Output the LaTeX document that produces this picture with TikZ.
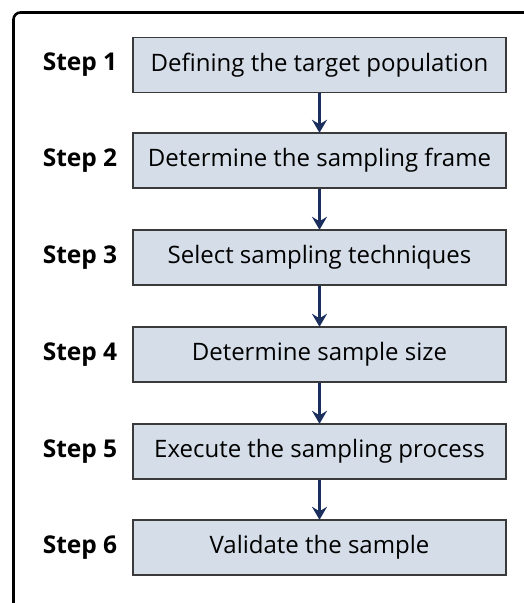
\documentclass[tikz,border=0pt]{standalone}
\usepackage{fontspec}
\setmainfont{Open Sans}
\usetikzlibrary{arrows.meta}
\definecolor{boxfill}{HTML}{D5DEE8}
\definecolor{boxline}{HTML}{3A3A3A}
\definecolor{arrowcol}{HTML}{1B2F5E}
\tikzset{
  stepbox/.style={draw=boxline, line width=1.4pt, fill=boxfill, minimum width=373pt, minimum height=55pt, inner sep=0pt, font=\fontsize{24}{28}\selectfont},
  steplabel/.style={font=\fontsize{24.5}{28}\selectfont\bfseries, inner sep=0pt},
  flow/.style={draw=arrowcol, line width=2.2pt, -{Stealth[length=13pt,width=15pt,inset=4.5pt]}, shorten >=-0.5pt},
}
\begin{document}
\begin{tikzpicture}[x=1pt,y=-1pt]
\useasboundingbox (0,0) rectangle (523,603);
\fill[white] (0,0) rectangle (523,603);
\draw[line width=2.6pt, rounded corners=7pt, black] (13.5,12.5) -- (560,12.5) -- (560,640) -- (13.5,640) -- cycle;
\node[stepbox] (b1) at (319.5,65) {Defining the target population};
\node[stepbox] (b2) at (319.5,160.5) {Determine the sampling frame};
\node[stepbox] (b3) at (319.5,257.5) {Select sampling techniques};
\node[stepbox] (b4) at (319.5,354.5) {Determine sample size};
\node[stepbox] (b5) at (319.5,451.5) {Execute the sampling process};
\node[stepbox] (b6) at (319.5,547.5) {Validate the sample};
\node[steplabel] (s1) at (80,65) {Step 1};
\node[steplabel] (s2) at (80,160.5) {Step 2};
\node[steplabel] (s3) at (80,257.5) {Step 3};
\node[steplabel] (s4) at (80,354.5) {Step 4};
\node[steplabel] (s5) at (80,451.5) {Step 5};
\node[steplabel] (s6) at (80,547.5) {Step 6};
\draw[flow] (b1) -- (b2);
\draw[flow] (b2) -- (b3);
\draw[flow] (b3) -- (b4);
\draw[flow] (b4) -- (b5);
\draw[flow] (b5) -- (b6);
\end{tikzpicture}
\end{document}
